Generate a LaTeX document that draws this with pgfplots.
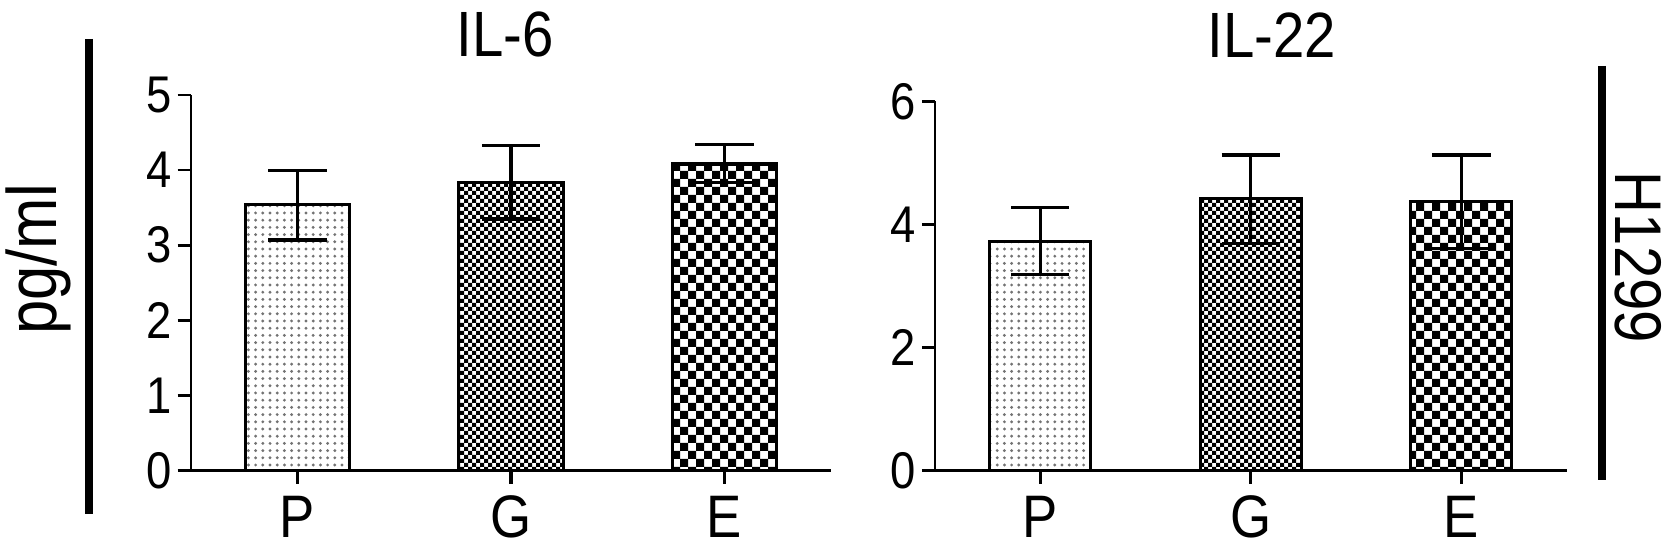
\documentclass[border=0pt]{standalone}
\usepackage{fontspec}
\setmainfont{Liberation Sans}[FakeStretch=0.88]
\usepackage{pgfplots}
\pgfplotsset{compat=1.18}
\usetikzlibrary{patterns}

% bar fills: sparse grey dots, fine checker, coarse checker
\pgfdeclarepatternformonly{sparsedots}{\pgfqpoint{-0.5pt}{-0.5pt}}{\pgfqpoint{1.8pt}{1.8pt}}{\pgfqpoint{1.8pt}{1.8pt}}{%
  \pgfpathcircle{\pgfqpoint{0.9pt}{0.9pt}}{0.4pt}\pgfusepath{fill}}
\pgfdeclarepatternformonly{finechecker}{\pgfqpoint{-0.5pt}{-0.5pt}}{\pgfqpoint{2pt}{2pt}}{\pgfqpoint{2pt}{2pt}}{%
  \pgfpathrectangle{\pgfqpoint{0pt}{0pt}}{\pgfqpoint{1.05pt}{1.05pt}}%
  \pgfpathrectangle{\pgfqpoint{1pt}{1pt}}{\pgfqpoint{1.05pt}{1.05pt}}%
  \pgfusepath{fill}}
\pgfdeclarepatternformonly{coarsechecker}{\pgfqpoint{-0.5pt}{-0.5pt}}{\pgfqpoint{4pt}{4pt}}{\pgfqpoint{4pt}{4pt}}{%
  \pgfpathrectangle{\pgfqpoint{0pt}{0pt}}{\pgfqpoint{2.05pt}{2.05pt}}%
  \pgfpathrectangle{\pgfqpoint{2pt}{2pt}}{\pgfqpoint{2.05pt}{2.05pt}}%
  \pgfusepath{fill}}

\pgfplotsset{
  every axis title shift=0pt,
  panel/.style={
    anchor=south west, scale only axis,
    xmin=-0.5, xmax=2.5, ymin=0,
    axis x line*=bottom, axis y line*=left,
    axis line style={line width=0.6pt},
    xtick align=outside, ytick align=outside,
    major tick length=3.3pt,
    tick style={line width=0.7pt, black},
    xtick style={line width=0.8pt, black},
    xtick={0,1,2}, xticklabels={P,G,E},
    /pgf/number format/assume math mode=true,
    yticklabel style={font=\fontsize{12.9}{14}\selectfont, inner sep=1.3pt},
    xticklabel style={font=\fontsize{15}{17}\selectfont, inner sep=2.8pt},
    title style={font=\fontsize{16}{18}\selectfont, anchor=center},
    clip=false,
  },
  barP/.style={ybar, draw=black, line width=0.8pt, pattern=sparsedots, pattern color=black!55},
  barG/.style={ybar, draw=black, line width=0.8pt, pattern=finechecker, pattern color=black},
  barE/.style={ybar, draw=black, line width=0.8pt, pattern=coarsechecker, pattern color=black},
  errs/.style={error bars/.cd, y dir=both, y explicit,
    error bar style={line width=0.8pt, black},
    error mark options={rotate=90, mark size=7.3pt, line width=0.8pt, black}},
}

\begin{document}
\begin{tikzpicture}[x=1pt, y=1pt]
\useasboundingbox (0,0) rectangle (419.25,138.75);

\begin{axis}[panel, at={(47.7pt,21.1pt)}, width=160.1pt, height=93.9pt,
  ymax=5, ytick={0,1,2,3,4,5}, bar width=0.49,
  title={IL-6}, title style={at={(axis description cs:0.491,1.16)}}]
  \addplot[barP, errs] coordinates {(0,3.54) += (0,0.45) -= (0,0.47)};
  \addplot[barG, errs] coordinates {(1,3.83) += (0,0.50) -= (0,0.48)};
  \addplot[barE, errs] coordinates {(2,4.08) += (0,0.26) -= (0,0.25)};
\end{axis}

\begin{axis}[panel, at={(233.75pt,21.1pt)}, width=157.9pt, height=92.3pt,
  ymax=6, ytick={0,2,4,6}, bar width=0.48,
  title={IL-22}, title style={at={(axis description cs:0.533,1.178)}}]
  \addplot[barP, errs] coordinates {(0,3.72) += (0,0.55) -= (0,0.53)};
  \addplot[barG, errs] coordinates {(1,4.42) += (0,0.71) -= (0,0.73)};
  \addplot[barE, errs] coordinates {(2,4.37) += (0,0.76) -= (0,0.76)};
\end{axis}

% side labels and bars
\draw[line width=2pt] (22.25,129) -- (22.25,10.25);
\node[rotate=90, font=\fontsize{17.5}{19}\selectfont] at (9.5,73.9) {pg/ml};
\draw[line width=2pt] (400.5,122.25) -- (400.5,18.75);
\node[rotate=-90, font=\fontsize{16.5}{18}\selectfont] at (409.6,74.4) {H1299};
\end{tikzpicture}
\end{document}
